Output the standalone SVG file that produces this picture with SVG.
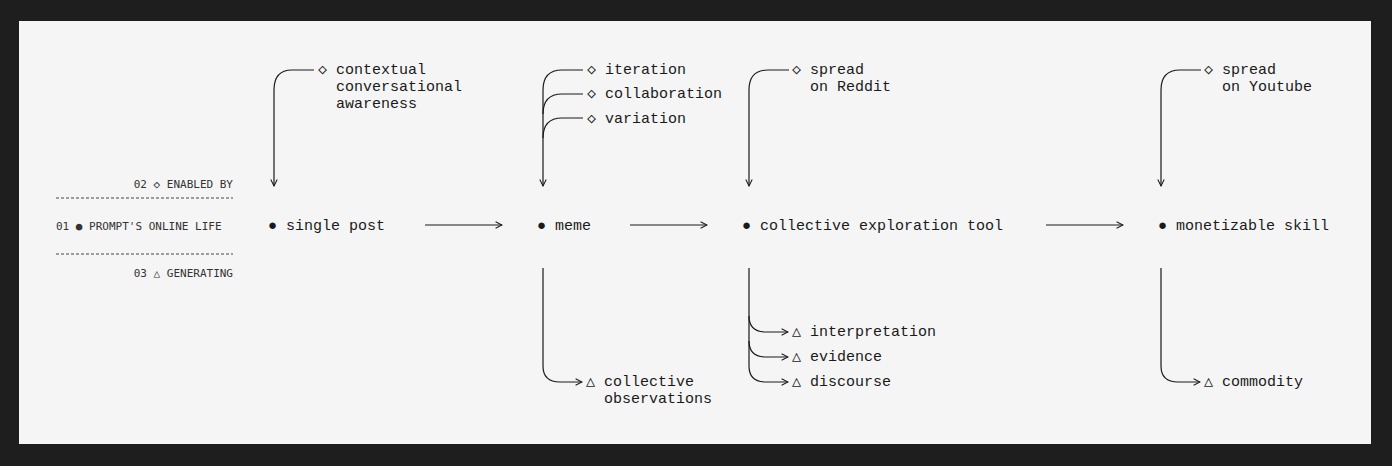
<svg xmlns="http://www.w3.org/2000/svg" width="1392" height="466" viewBox="0 0 1392 466">
<defs>
<marker id="ah" viewBox="0 0 10 10" refX="9" refY="5" markerWidth="8" markerHeight="8" orient="auto" markerUnits="userSpaceOnUse"><path d="M1,1 L9,5 L1,9" fill="none" stroke="#1a1a1a" stroke-width="1.3"/></marker>
</defs>
<style>
text{font-family:"Liberation Mono","DejaVu Sans Mono",monospace;fill:#1a1a1a}
.t{font-size:15px}
.s{font-size:11px;font-family:"DejaVu Sans Mono","Liberation Mono",monospace;fill:#333}
.c{fill:none;stroke:#1a1a1a;stroke-width:1.2}
.a{marker-end:url(#ah)}
.d{stroke:#444;stroke-width:1;stroke-dasharray:3 2}
</style>
<rect width="1392" height="466" fill="#1e1e1e"/>
<rect x="19" y="21" width="1352" height="423" fill="#f5f5f5"/>
<g id="legend">
<text class="s" x="233" y="188" text-anchor="end">02 ◇ ENABLED BY</text>
<line class="d" x1="56" y1="198" x2="233" y2="198"/>
<text class="s" x="56" y="230">01 ● PROMPT'S ONLINE LIFE</text>
<line class="d" x1="56" y1="254" x2="233" y2="254"/>
<text class="s" x="233" y="277" text-anchor="end">03 △ GENERATING</text>
</g>
<g id="connectors">
<path class="c a" d="M425,225 H502"/>
<path class="c a" d="M630,225 H707"/>
<path class="c a" d="M1046,225 H1123"/>
<path class="c a" d="M314,70 H292 Q274,70 274,90 V186"/>
<path class="c a" d="M583,70 H562 Q543,70 543,90 V186"/>
<path class="c" d="M583,94 H562 Q543,94 543,114"/>
<path class="c" d="M583,118 H562 Q543,118 543,138"/>
<path class="c a" d="M789,70 H768 Q749,70 749,90 V186"/>
<path class="c a" d="M1201,70 H1180 Q1161,70 1161,90 V186"/>
<path class="c a" d="M543,268 V366 Q543,382 560,382 H582"/>
<path class="c a" d="M749,268 V366 Q749,382 766,382 H788"/>
<path class="c a" d="M749,316 Q749,332 766,332 H788"/>
<path class="c a" d="M749,341 Q749,357 766,357 H788"/>
<path class="c a" d="M1161,268 V366 Q1161,382 1178,382 H1200"/>
</g>
<g id="n-single"><text class="t" x="268" y="230">● single post</text></g>
<g id="n-meme"><text class="t" x="537" y="230">● meme</text></g>
<g id="n-tool"><text class="t" x="742" y="230">● collective exploration tool</text></g>
<g id="n-skill"><text class="t" x="1158" y="230">● monetizable skill</text></g>
<g id="e-context"><text class="t" x="318" y="74">◇ contextual</text><text class="t" x="336" y="91">conversational</text><text class="t" x="336" y="108">awareness</text></g>
<g id="e-meme"><text class="t" x="587" y="74">◇ iteration</text><text class="t" x="587" y="98">◇ collaboration</text><text class="t" x="587" y="123">◇ variation</text></g>
<g id="e-reddit"><text class="t" x="792" y="74">◇ spread</text><text class="t" x="810" y="91">on Reddit</text></g>
<g id="e-youtube"><text class="t" x="1204" y="74">◇ spread</text><text class="t" x="1222" y="91">on Youtube</text></g>
<g id="g-obs"><text class="t" x="586" y="386">△ collective</text><text class="t" x="604" y="403">observations</text></g>
<g id="g-tool"><text class="t" x="792" y="336">△ interpretation</text><text class="t" x="792" y="361">△ evidence</text><text class="t" x="792" y="386">△ discourse</text></g>
<g id="g-comm"><text class="t" x="1204" y="386">△ commodity</text></g>
</svg>
